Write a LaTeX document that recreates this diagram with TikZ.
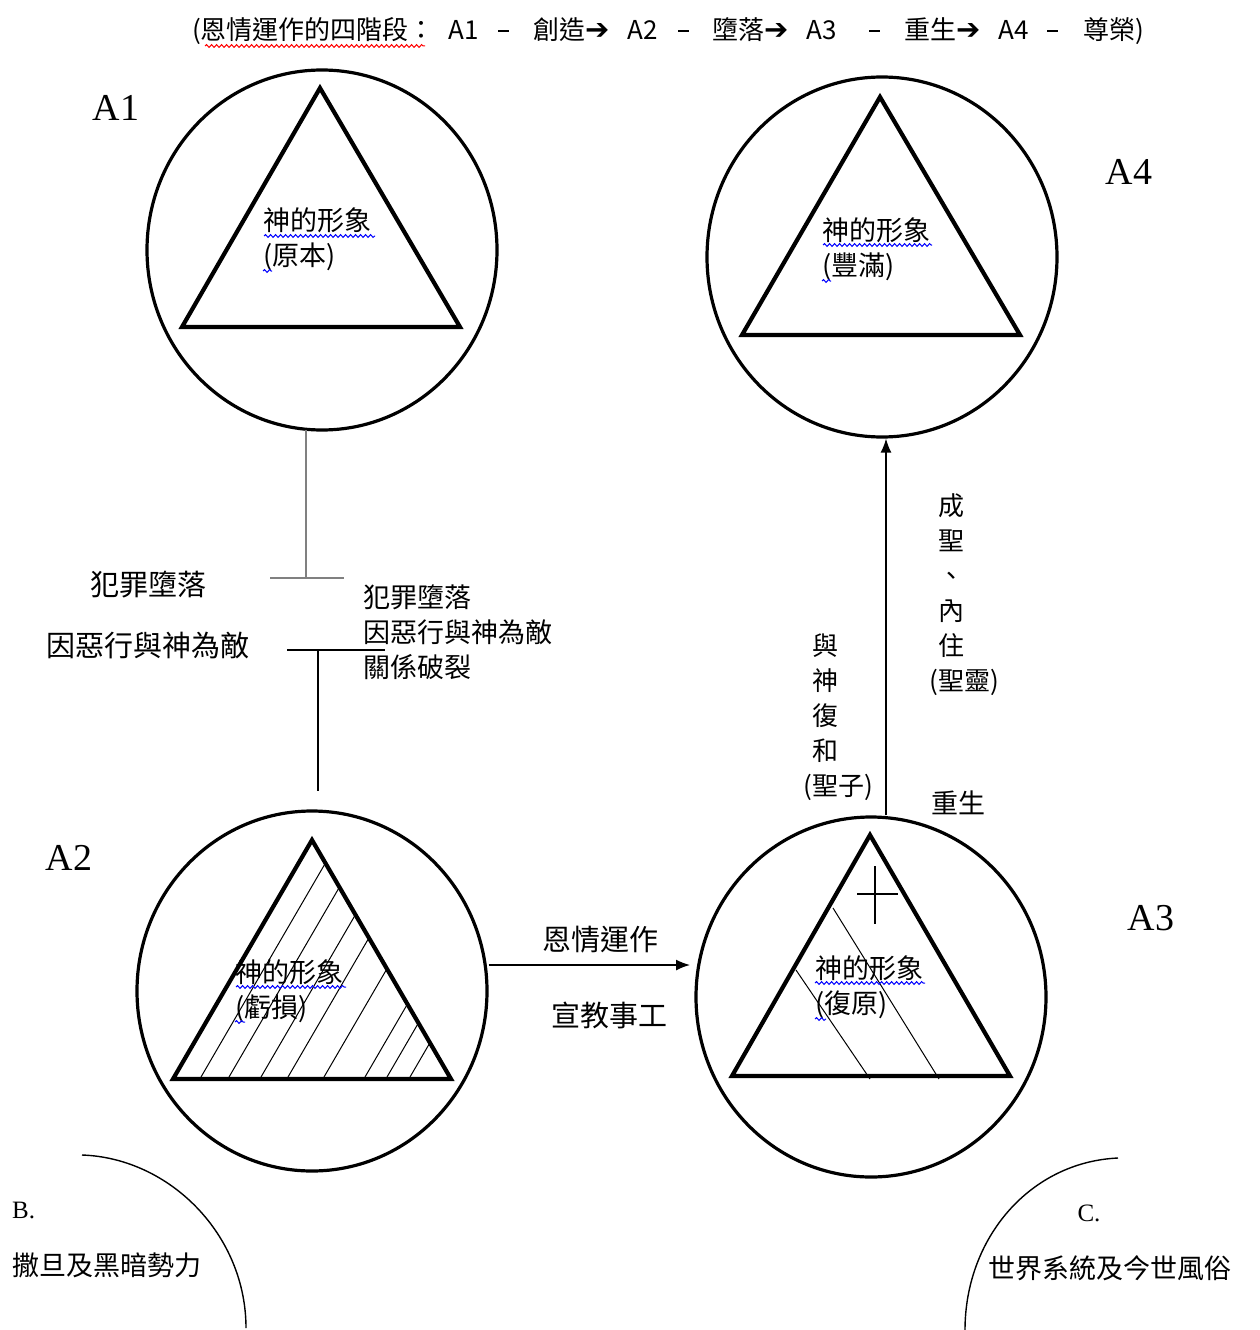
\documentclass[tikz,border=0pt]{standalone}
\usepackage{fontspec}
\setmainfont{Liberation Serif}
\newfontfamily\cjk{Noto Sans CJK TC}
\newfontfamily\djv{DejaVu Sans}
\usetikzlibrary{arrows.meta,shapes.geometric,decorations.pathmorphing}
\newcommand{\barrow}{{\djv\fontsize{29}{30}\selectfont ➔}}
\newcommand{\tdash}{\rule[8pt]{11pt}{1.6pt}}
\tikzset{
  ring/.style={draw, line width=3.2pt, ellipse, minimum width=350pt, minimum height=360pt, inner sep=0pt},
  tri/.style={draw, line width=4.2pt, line join=miter},
  hatchline/.style={line width=1pt},
  conn/.style={line width=1.5pt},
  grayconn/.style={line width=2.2pt, black!50},
  arr/.style={line width=1.5pt, -{Latex[length=14pt,width=11pt]}},
  tx/.style={font=\cjk\fontsize{27}{35}\selectfont, inner sep=0pt, align=left},
  txbig/.style={font=\cjk\fontsize{29}{35}\selectfont, inner sep=0pt},
  vtx/.style={font=\cjk\fontsize{26}{35}\selectfont, inner sep=0pt, align=left},
  ttl/.style={font=\cjk\fontsize{26}{30}\selectfont, inner sep=0pt, anchor=base west},
  lab/.style={font=\fontsize{38}{40}\selectfont, inner sep=0pt},
  labsm/.style={font=\fontsize{25}{28}\selectfont, inner sep=0pt},
  wavyb/.style={blue, line width=1pt, decorate, decoration={snake, segment length=5pt, amplitude=1.4pt}},
  wavyr/.style={red, line width=1pt, decorate, decoration={snake, segment length=5pt, amplitude=1.4pt}},
  arcline/.style={line width=1.4pt}
}
\begin{document}
\begin{tikzpicture}[x=1pt,y=-1pt]
\useasboundingbox (0,0) rectangle (1260,1330);
\fill[white] (0,0) rectangle (1260,1330);

% ---- title ----
\node[ttl] (t1) at (192,40) {(恩情運作的四階段：};
\node[ttl] (t2) at (448,40) {A1};
\node[ttl] (t3) at (498,40) {\tdash};
\node[ttl] (t4) at (533,40) {創造\barrow};
\node[ttl] (t5) at (627,40) {A2};
\node[ttl] (t6) at (678,40) {\tdash};
\node[ttl] (t7) at (712,40) {墮落\barrow};
\node[ttl] (t8) at (806,40) {A3};
\node[ttl] (t9) at (869,40) {\tdash};
\node[ttl] (t10) at (904,40) {重生\barrow};
\node[ttl] (t11) at (998,40) {A4};
\node[ttl] (t12) at (1047,40) {\tdash};
\node[ttl] (t13) at (1083,40) {尊榮)};
\draw[wavyr] (205,46) -- (425,46);

% ---- circles ----
\node[ring] (A1) at (322,250) {};
\node[ring] (A4) at (882,257) {};
\node[ring] (A2) at (312,991) {};
\node[ring] (A3) at (871,997) {};

% ---- labels ----
\node[lab] (lA1) at (116,108) {A1};
\node[lab] (lA4) at (1129,172) {A4};
\node[lab] (lA2) at (69,858) {A2};
\node[lab] (lA3) at (1151,918) {A3};

% ---- triangles ----
\draw[tri] (320,88) -- (460,327) -- (182,327) -- cycle;
\draw[tri] (880,97) -- (1020,335) -- (742,335) -- cycle;
\begin{scope}
  \clip (312,840) -- (451,1079) -- (173,1079) -- cycle;
  \foreach \bx in {201,229,261,288,324,365,387,410}
    \draw[hatchline] (\bx,1077) -- ++(139,-239);
\end{scope}
\draw[tri] (312,840) -- (451,1079) -- (173,1079) -- cycle;
\draw[hatchline] (833,908) -- (939,1079);
\draw[hatchline] (796,970) -- (870,1079);
\draw[line width=1.3pt] (875,866) -- (875,924);
\draw[line width=1.3pt] (857,894) -- (898,894);
\draw[tri] (870,835) -- (1010,1076) -- (732,1076) -- cycle;

% ---- triangle texts ----
\node[tx, anchor=west] (i1) at (263,239) {神的形象\\(原本)};
\draw[wavyb] (264,236) -- (375,236);
\draw[wavyb] (263,271) -- (272,271);
\node[tx, anchor=west] (i4) at (822,249) {神的形象\\(豐滿)};
\draw[wavyb] (823,245) -- (932,245);
\draw[wavyb] (822,281) -- (831,281);
\node[tx, anchor=west] (i2) at (235,991) {神的形象\\(虧損)};
\draw[wavyb] (236,987) -- (346,987);
\draw[wavyb] (235,1022) -- (245,1022);
\node[tx, anchor=west] (i3) at (815,987) {神的形象\\(復原)};
\draw[wavyb] (815,983) -- (925,983);
\draw[wavyb] (815,1019) -- (826,1019);

% ---- fall connectors ----
\coordinate (g1) at (306,430);
\coordinate (g2) at (306,578);
\coordinate (g3) at (270,578);
\coordinate (g4) at (344,578);
\draw[grayconn] (g1) -- (g2);
\draw[grayconn] (g3) -- (g4);
\coordinate (b1) at (287,650);
\coordinate (b2) at (385,650);
\coordinate (b3) at (318,650);
\coordinate (b4) at (318,791);
\draw[conn] (b1) -- (b2);
\draw[conn] (b3) -- (b4);
\node[txbig] (f1) at (148,585) {犯罪墮落};
\node[txbig] (f2) at (148,646) {因惡行與神為敵};
\node[tx, anchor=north west] (f3) at (363,585) {犯罪墮落\\因惡行與神為敵\\關係破裂};

% ---- grace arrow ----
\draw[arr] (A2.east |- 0,965) -- (690,965);
\node[txbig] (g5) at (600,940) {恩情運作};
\node[txbig] (g6) at (609,1015) {宣教事工};

% ---- rebirth arrow ----
\coordinate (rx) at (886,0);
\draw[arr] (A3.north -| rx) -- (A4.south -| rx);
\node[vtx, anchor=north west] (v1) at (812,634) {與\\神\\復\\和\\\llap{(}聖子)};
\node[vtx, anchor=north west] (v2) at (938,493) {成\\聖\\、\\內\\住\\\llap{(}聖靈)};
\node[tx] (v3) at (958,803) {重生};

% ---- bottom arcs ----
\draw[arcline] (82,1155) .. controls (170,1158) and (246,1235) .. (246,1328);
\draw[arcline] (1118,1158) .. controls (1030,1162) and (965,1238) .. (965,1330);
\node[labsm, anchor=west] (B) at (12,1210) {B.};
\node[tx, anchor=west] (Bt) at (12,1265) {撒旦及黑暗勢力};
\node[labsm] (C) at (1089,1213) {C.};
\node[tx, anchor=west] (Ct) at (988,1268) {世界系統及今世風俗};
\end{tikzpicture}
\end{document}
